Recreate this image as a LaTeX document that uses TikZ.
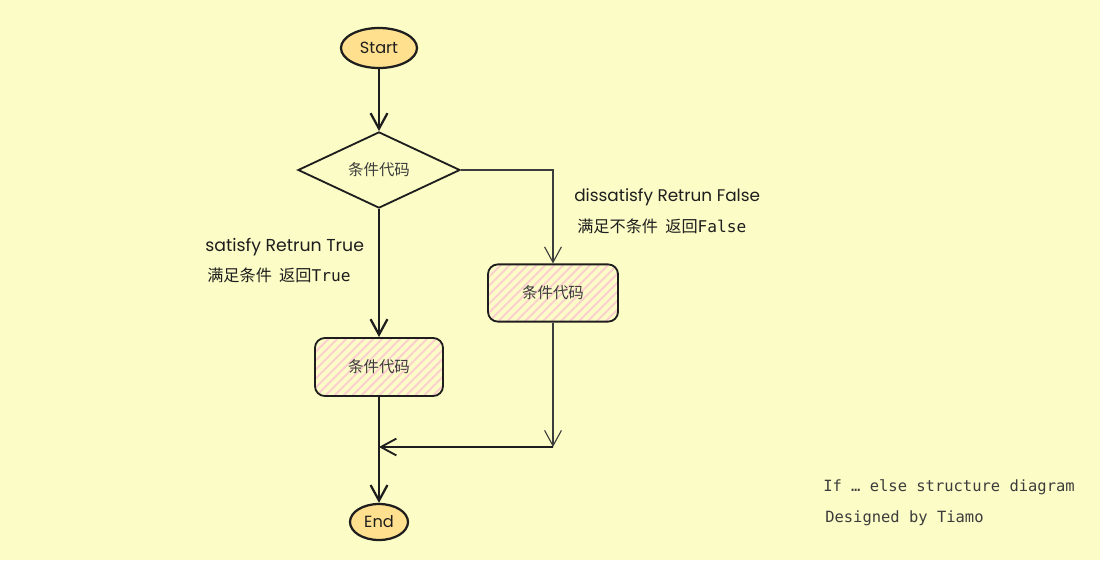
\documentclass[tikz,border=0pt]{standalone}
\usepackage{fontspec}
\newfontfamily\handfont{Poppins}
\newfontfamily\cjk{Noto Sans CJK SC}
\newfontfamily\codefont{DejaVu Sans Mono}
\usetikzlibrary{arrows.meta,shapes.geometric,patterns.meta}
\definecolor{paper}{HTML}{FCFCC6}
\definecolor{ink}{HTML}{1E1E1E}
\definecolor{soft}{HTML}{3C3C3C}
\definecolor{term}{HTML}{FFE08F}
\definecolor{hatch}{HTML}{FCCFCF}

\tikzset{
  terminal/.style={ellipse,draw=ink,line width=1.6pt,fill=term,inner sep=0pt,text=ink,font=\handfont\fontsize{11.5}{13}\selectfont},
  decision/.style={diamond,draw=ink,line width=1.3pt,inner sep=0pt,minimum width=4.05cm,minimum height=1.8cm,text=soft,font=\cjk\fontsize{11}{13}\selectfont},
  codebox/.style={rectangle,rounded corners=7pt,draw=ink,line width=1.3pt,minimum width=3.2cm,minimum height=1.45cm,text=soft,font=\cjk\fontsize{11}{13}\selectfont,
    pattern={Lines[angle=45,distance=4.5pt,line width=1.4pt]},pattern color=hatch},
  flow/.style={draw=ink,line width=1.6pt,-{Straight Barb[length=11pt,width=12pt]}},
  thinflow/.style={draw=soft,line width=0.8pt,-{Straight Barb[length=11pt,width=12pt]}},
  note/.style={anchor=west,text=ink,inner sep=0pt}
}

\begin{document}
\begin{tikzpicture}[x=0.025cm,y=-0.025cm]
  \fill[paper] (0,0) rectangle (1100,560);
  \useasboundingbox (0,0) rectangle (1100,560);

  % main column
  \node[terminal,minimum width=1.9cm,minimum height=1cm] (start) at (379,48) {Start};
  \node[decision] (cond) at (379,170) {条件代码};
  \node[codebox] (yesbox) at (379,367) {条件代码};
  \node[terminal,minimum width=1.45cm,minimum height=0.9cm] (finish) at (379,522) {End};

  % else branch
  \node[codebox,minimum width=3.25cm,minimum height=1.43cm] (nobox) at (553,293) {条件代码};
  \coordinate (join) at (553,447);
  \coordinate (merge) at (379,447);

  \draw[flow] (start) -- (cond);
  \draw[flow] (cond.south) -- (yesbox.north);
  \draw[thinflow] (cond.east) -| (nobox.north);
  \draw[thinflow] (nobox.south) -- (join);
  \draw[flow,line width=1.3pt] (join) -- (merge);
  \draw[flow] (yesbox.south) -- (finish.north);

  % branch labels
  \node[note,font=\handfont\fontsize{12.3}{14}\selectfont] (yeslab) at (205,247) {satisfy Retrun True};
  \node[note,font=\cjk\fontsize{11.5}{13}\selectfont] (yescn) at (207,275) {满足条件\ \ 返回{\codefont True}};
  \node[note,font=\handfont\fontsize{12}{14}\selectfont] (nolab) at (574,197) {dissatisfy Retrun False};
  \node[note,font=\cjk\fontsize{11.5}{13}\selectfont] (nocn) at (577,226) {满足不条件\ \ 返回{\codefont False}};

  % caption
  \node[note,text=soft,font=\codefont\fontsize{11}{13}\selectfont] (title) at (823,487) {If … else structure diagram};
  \node[note,text=soft,font=\codefont\fontsize{11}{13}\selectfont] (credit) at (825,518) {Designed by Tiamo};
\end{tikzpicture}
\end{document}
